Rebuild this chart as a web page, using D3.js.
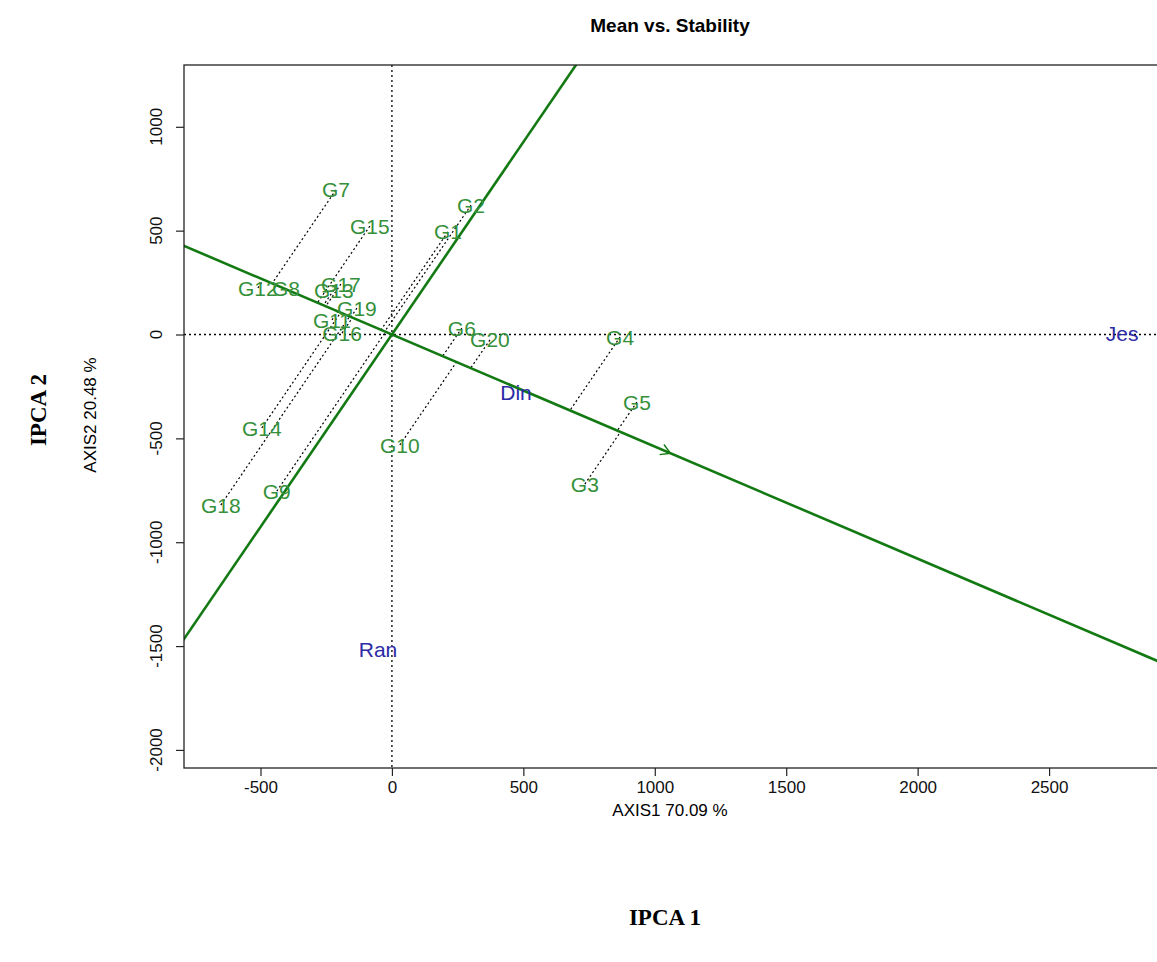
<!DOCTYPE html>
<html>
<head>
<meta charset="utf-8">
<script src="https://cdn.jsdelivr.net/npm/d3@7"></script>
<style>
body { margin: 0; background: #fff; }
text { font-family: 'Liberation Sans', Arial, sans-serif; }
</style>
</head>
<body>
<div class="chart"></div>
<script>
// genotype scores (IPCA1, IPCA2)
const genotypes = ['G1','G2','G3','G4','G5','G6','G7','G8','G9','G10',
                   'G11','G12','G13','G14','G15','G16','G17','G18','G19','G20'];
const genoX = [213, 301, 734, 868, 932, 266, -213, -403, -438, 30,
               -228, -510, -221, -495, -84, -190, -194, -651, -133, 373];
const genoY = [494, 623, -720, -12, -325, 31, 696, 224, -754, -532,
               70, 224, 214, -450, 522, 7, 243, -821, 127, -26];

// environment scores
const environments = ['Jes', 'Din', 'Ran'];
const envX = [2778, 472, -53];
const envY = [7, -277, -1514];

// average environment coordinate (arrow tip of the AEA)
const avgEnv = [1060, -572];

const xTicks = [-500, 0, 500, 1000, 1500, 2000, 2500];
const yTicks = [-2000, -1500, -1000, -500, 0, 500, 1000];
const xDomain = [-791, 2922];
const yDomain = [-2087, 1297.5];

const W = 1157, H = 962;
const margin = ({top: 65, right: -3, bottom: 194, left: 184});
const width = W - margin.left - margin.right;
const height = H - margin.top - margin.bottom;

const svg = d3.select('.chart')
              .append('svg')
              .attr('width', W)
              .attr('height', H)
              .style('display', 'block');

svg.append('rect').attr('width', W).attr('height', H).attr('fill', '#fff');

const g = svg.append('g')
             .attr('transform', 'translate(' + margin.left + ',' + margin.top + ')');

const xScale = d3.scaleLinear().domain(xDomain).range([0, width]);
const yScale = d3.scaleLinear().domain(yDomain).range([height, 0]);

g.append('clipPath').attr('id', 'plotclip')
  .append('rect').attr('width', width).attr('height', height);

const plot = g.append('g').attr('clip-path', 'url(#plotclip)');

// dotted reference axes through the origin
plot.append('line')
    .attr('x1', xScale(0)).attr('x2', xScale(0))
    .attr('y1', 0).attr('y2', height)
    .attr('stroke', '#000').attr('stroke-width', 1.3)
    .attr('stroke-dasharray', '2,3');
plot.append('line')
    .attr('x1', 0).attr('x2', width)
    .attr('y1', yScale(0)).attr('y2', yScale(0))
    .attr('stroke', '#000').attr('stroke-width', 1.3)
    .attr('stroke-dasharray', '2,3');

// unit vector along the average environment axis (data space)
const len = Math.hypot(avgEnv[0], avgEnv[1]);
const u = [avgEnv[0] / len, avgEnv[1] / len];
const big = 20000;

// projection lines from genotypes to the AEA
genotypes.forEach((name, i) => {
    const dot = genoX[i] * u[0] + genoY[i] * u[1];
    plot.append('line')
        .attr('x1', xScale(genoX[i])).attr('y1', yScale(genoY[i]))
        .attr('x2', xScale(dot * u[0])).attr('y2', yScale(dot * u[1]))
        .attr('stroke', '#000').attr('stroke-width', 1.2)
        .attr('stroke-dasharray', '2,2.5');
});

// AEA and its perpendicular through the origin
const aeaColor = '#137a13';
plot.append('line')
    .attr('x1', xScale(-big * u[0])).attr('y1', yScale(-big * u[1]))
    .attr('x2', xScale(big * u[0])).attr('y2', yScale(big * u[1]))
    .attr('stroke', aeaColor).attr('stroke-width', 2.6);
plot.append('line')
    .attr('x1', xScale(big * u[1])).attr('y1', yScale(-big * u[0]))
    .attr('x2', xScale(-big * u[1])).attr('y2', yScale(big * u[0]))
    .attr('stroke', aeaColor).attr('stroke-width', 2.6);

// arrow head at the average environment
const tx = xScale(avgEnv[0]), ty = yScale(avgEnv[1]);
const ang = Math.atan2(ty - yScale(0), tx - xScale(0));
[Math.PI / 6, -Math.PI / 6].forEach(a => {
    plot.append('line')
        .attr('x1', tx).attr('y1', ty)
        .attr('x2', tx - 11 * Math.cos(ang + a))
        .attr('y2', ty - 11 * Math.sin(ang + a))
        .attr('stroke', aeaColor).attr('stroke-width', 1.4);
});

// labels
plot.selectAll('.geno')
    .data(genotypes)
    .enter()
    .append('text')
    .attr('class', 'geno')
    .attr('x', (d, i) => xScale(genoX[i]))
    .attr('y', (d, i) => yScale(genoY[i]))
    .attr('dy', '0.36em')
    .attr('text-anchor', 'middle')
    .attr('font-size', 21)
    .attr('fill', '#35903a')
    .text(d => d);

plot.selectAll('.env')
    .data(environments)
    .enter()
    .append('text')
    .attr('class', 'env')
    .attr('x', (d, i) => xScale(envX[i]))
    .attr('y', (d, i) => yScale(envY[i]))
    .attr('dy', '0.36em')
    .attr('text-anchor', 'middle')
    .attr('font-size', 21)
    .attr('fill', '#2b2ba6')
    .text(d => d);

// box
g.append('rect')
  .attr('width', width).attr('height', height)
  .attr('fill', 'none').attr('stroke', '#222').attr('stroke-width', 1.3);

// axes
const xAxis = d3.axisBottom(xScale).tickValues(xTicks).tickSize(8).tickPadding(5)
                .tickFormat(d => String(d));
const yAxis = d3.axisLeft(yScale).tickValues(yTicks).tickSize(8).tickFormat('');

const gx = g.append('g')
   .attr('transform', 'translate(0,' + height + ')')
   .call(xAxis);
gx.select('.domain').remove();
gx.selectAll('line').attr('stroke', '#222').attr('stroke-width', 1.2);
gx.selectAll('text').attr('font-size', 17).attr('fill', '#111')
   .attr('font-family', "'Liberation Sans', Arial, sans-serif");

const gy = g.append('g').call(yAxis);
gy.select('.domain').remove();
gy.selectAll('line').attr('stroke', '#222').attr('stroke-width', 1.2);

g.selectAll('.ylab')
  .data(yTicks)
  .enter()
  .append('text')
  .attr('class', 'ylab')
  .attr('transform', d => 'translate(' + (-22) + ',' + yScale(d) + ') rotate(-90)')
  .attr('text-anchor', 'middle')
  .attr('font-size', 17)
  .attr('fill', '#111')
  .text(d => String(d));

// titles
svg.append('text')
   .attr('x', 670).attr('y', 32)
   .attr('text-anchor', 'middle')
   .attr('font-size', 19).attr('font-weight', 'bold')
   .text('Mean vs. Stability');

svg.append('text')
   .attr('x', 670).attr('y', 816)
   .attr('text-anchor', 'middle')
   .attr('font-size', 17)
   .text('AXIS1 70.09 %');

svg.append('text')
   .attr('transform', 'translate(96,415) rotate(-90)')
   .attr('text-anchor', 'middle')
   .attr('font-size', 17)
   .text('AXIS2 20.48 %');

svg.append('text')
   .attr('transform', 'translate(46,410) rotate(-90)')
   .attr('text-anchor', 'middle')
   .attr('font-size', 23).attr('font-weight', 'bold')
   .style('font-family', "'Liberation Serif', 'Times New Roman', serif")
   .text('IPCA 2');

svg.append('text')
   .attr('x', 665).attr('y', 925)
   .attr('text-anchor', 'middle')
   .attr('font-size', 23).attr('font-weight', 'bold')
   .style('font-family', "'Liberation Serif', 'Times New Roman', serif")
   .text('IPCA 1');
</script>
</body>
</html>
